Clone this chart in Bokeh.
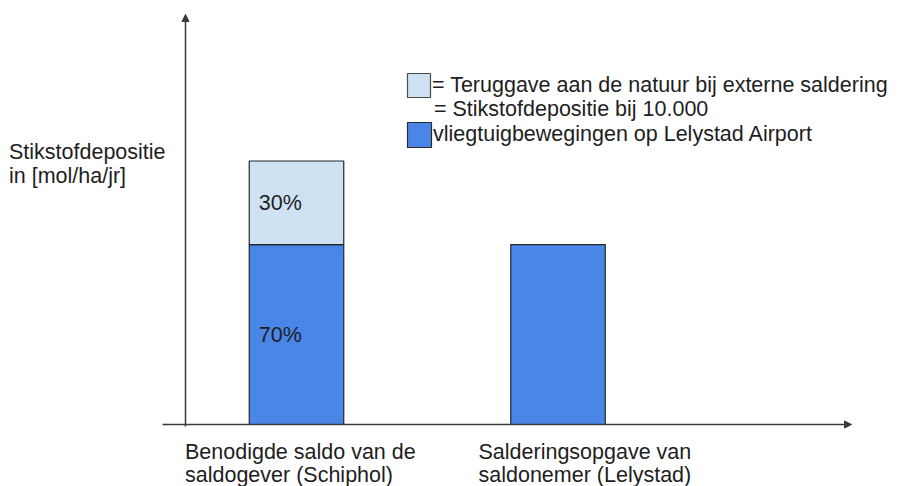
from bokeh.plotting import figure
from bokeh.models import Range1d, Arrow, NormalHead, ColumnDataSource
from bokeh.core.properties import value
from bokeh.embed import file_html
from bokeh.resources import INLINE

# ---------------- data ----------------
categories_line1 = ["Benodigde saldo van de", "Salderingsopgave van"]
categories_line2 = ["saldogever (Schiphol)", "saldonemer (Lelystad)"]
base_values = [68.3, 68.3]      # Stikstofdepositie bij 10.000 vliegtuigbewegingen op Lelystad Airport
return_values = [31.7, 0.0]     # Teruggave aan de natuur bij externe saldering
base_labels = ["70%", ""]
return_labels = ["30%", ""]
y_label_lines = ["Stikstofdepositie", "in [mol/ha/jr]"]
legend_lines = ["= Teruggave aan de natuur bij externe saldering",
                "= Stikstofdepositie bij 10.000",
                "vliegtuigbewegingen op Lelystad Airport"]

# ---------------- layout / style ----------------
W, H = 897, 486
OFF = 0
X0_PX, XPU = 296.0, 261.5     # px of category 0, px per category step
Y0_PX, YPU = 424.0, 2.635     # px of value 0, px per value unit
BAR_W = 94.5 / XPU
DARK = "#4a86e8"
LIGHT = "#cfe2f3"
EDGE = "#262626"
AXIS = "#3a3a3a"
TXT = "#1e1e1e"
FONT = value("Liberation Sans")
FS = "21.5px"


def px_x(px):
    return (px - X0_PX) / XPU


def px_y(py):
    return (Y0_PX - py) / YPU


p = figure(width=W, height=H, output_backend="svg", toolbar_location=None,
           x_range=Range1d(px_x(OFF), px_x(OFF + W)),
           y_range=Range1d(px_y(OFF + H), px_y(OFF)),
           min_border=0, outline_line_color=None)
p.axis.visible = False
p.grid.visible = False
p.background_fill_color = "white"
p.border_fill_color = "white"

xs = list(range(len(base_values)))
tops = [b + r for b, r in zip(base_values, return_values)]

# bars
p.vbar(x=xs, width=BAR_W, bottom=0, top=base_values,
       fill_color=DARK, line_color=EDGE, line_width=1.2)
rx = [x for x, r in zip(xs, return_values) if r > 0]
rb = [b for b, r in zip(base_values, return_values) if r > 0]
rt = [t for t, r in zip(tops, return_values) if r > 0]
p.vbar(x=rx, width=BAR_W, bottom=rb, top=rt,
       fill_color=LIGHT, line_color=EDGE, line_width=1.2)

# segment labels
seg = ColumnDataSource(dict(
    x=[x - BAR_W / 2 for x in xs] + [x - BAR_W / 2 for x in xs],
    y=[b / 2 for b in base_values] + [b + r / 2 for b, r in zip(base_values, return_values)],
    t=base_labels + return_labels))
p.text(x="x", y="y", text="t", source=seg, x_offset=9.5, y_offset=0,
       text_baseline="middle", text_align="left",
       text_font=FONT, text_font_size=FS, text_color=TXT)

# axes with arrows
p.add_layout(Arrow(x_start=px_x(185), y_start=px_y(426), x_end=px_x(185), y_end=px_y(14),
                   line_color=AXIS, line_width=1.5,
                   end=NormalHead(size=7, fill_color=AXIS, line_color=AXIS, line_width=1)))
p.add_layout(Arrow(x_start=px_x(162), y_start=0, x_end=px_x(851), y_end=0,
                   line_color=AXIS, line_width=1.5,
                   end=NormalHead(size=7, fill_color=AXIS, line_color=AXIS, line_width=1)))

# category labels
cat_x = [px_x(184.5), px_x(478)]
p.text(x=cat_x, y=[px_y(451.5)] * 2, text=categories_line1, text_baseline="middle",
       text_align="left", text_font=FONT, text_font_size=FS, text_color=TXT)
p.text(x=cat_x, y=[px_y(474.0)] * 2, text=categories_line2, text_baseline="middle",
       text_align="left", text_font=FONT, text_font_size=FS, text_color=TXT)

# y label
p.text(x=[px_x(8.5)] * 2, y=[px_y(151.4), px_y(175.4)], text=y_label_lines,
       text_baseline="middle", text_align="left",
       text_font=FONT, text_font_size=FS, text_color=TXT)

# legend
p.quad(left=[px_x(407)], right=[px_x(430)], top=[px_y(73)], bottom=[px_y(97)],
       fill_color=LIGHT, line_color="#4a4a4a", line_width=1.2)
p.quad(left=[px_x(407)], right=[px_x(431)], top=[px_y(122)], bottom=[px_y(147)],
       fill_color=DARK, line_color="#2a2a2a", line_width=1.2)
p.text(x=[px_x(431.5), px_x(433.5), px_x(432.5)], y=[px_y(84.3), px_y(108.8), px_y(133.3)],
       text=legend_lines, text_baseline="middle", text_align="left",
       text_font=FONT, text_font_size=FS, text_color=TXT)

open("out.html", "w").write(file_html(p, INLINE))
